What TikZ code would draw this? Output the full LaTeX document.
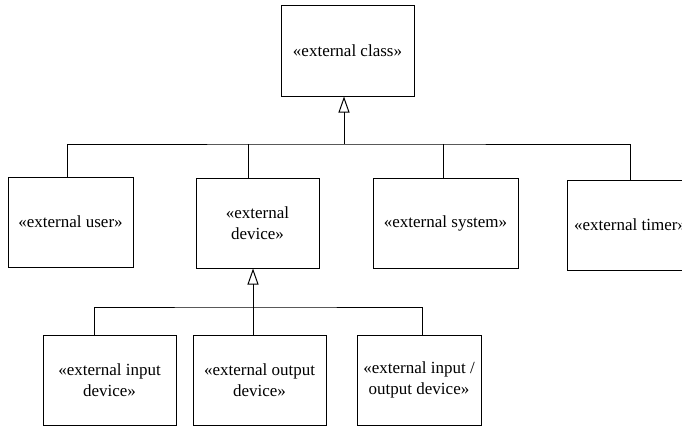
\documentclass[tikz,border=0pt]{standalone}
\usepackage{fontspec}
\setmainfont{Liberation Serif}
\usetikzlibrary{arrows.meta}

\tikzset{
  classbox/.style={draw, line width=1pt, align=center, minimum height=90pt,
    inner sep=1pt, font=\fontsize{17}{21}\selectfont},
  gen/.style={line width=1pt, -{Triangle[open, width=11pt, length=16pt]}},
  link/.style={line width=1pt}
}

\begin{document}
\begin{tikzpicture}[x=1pt, y=-1pt]
  \useasboundingbox (0,0) rectangle (682,426);

  % superclass
  \node[classbox, minimum width=133pt, minimum height=91pt] (cls) at (347.5,50.5) {«external class»};

  % first level
  \node[classbox, minimum width=125pt] (usr) at (70.5,222) {«external user»};
  \node[classbox, minimum width=123pt] (dev) at (257.5,223) {«external\\ device»};
  \node[classbox, minimum width=145pt] (sys) at (445.5,223) {«external system»};
  \node[classbox, minimum width=126pt] (tim) at (630,225) {«external timer»};

  % second level
  \node[classbox, minimum width=133pt] (inp) at (109.5,380) {«external input\\ device»};
  \node[classbox, minimum width=133pt] (outp) at (259.5,380) {«external output\\ device»};
  \node[classbox, minimum width=124pt] (io) at (419,380) {«external input /\\ output device»};

  % generalization to external class
  \coordinate (top) at (344,144);
  \draw[gen] (top) -- (top |- cls.south);
  \draw[link] ([xshift=-3.5pt]usr.north) |- (top) -| (tim.north);
  \draw[link] ([xshift=-9pt]dev.north) -- ([xshift=-9pt]dev.north |- top);
  \draw[link] ([xshift=-2pt]sys.north) -- ([xshift=-2pt]sys.north |- top);

  % generalization to external device
  \coordinate (mid) at (253,307);
  \draw[gen] (mid) -- (mid |- dev.south);
  \draw[link] ([xshift=-15.5pt]inp.north) |- (mid) -| ([xshift=3pt]io.north);
  \draw[link] (mid) -- (mid |- outp.north);
\end{tikzpicture}
\end{document}
